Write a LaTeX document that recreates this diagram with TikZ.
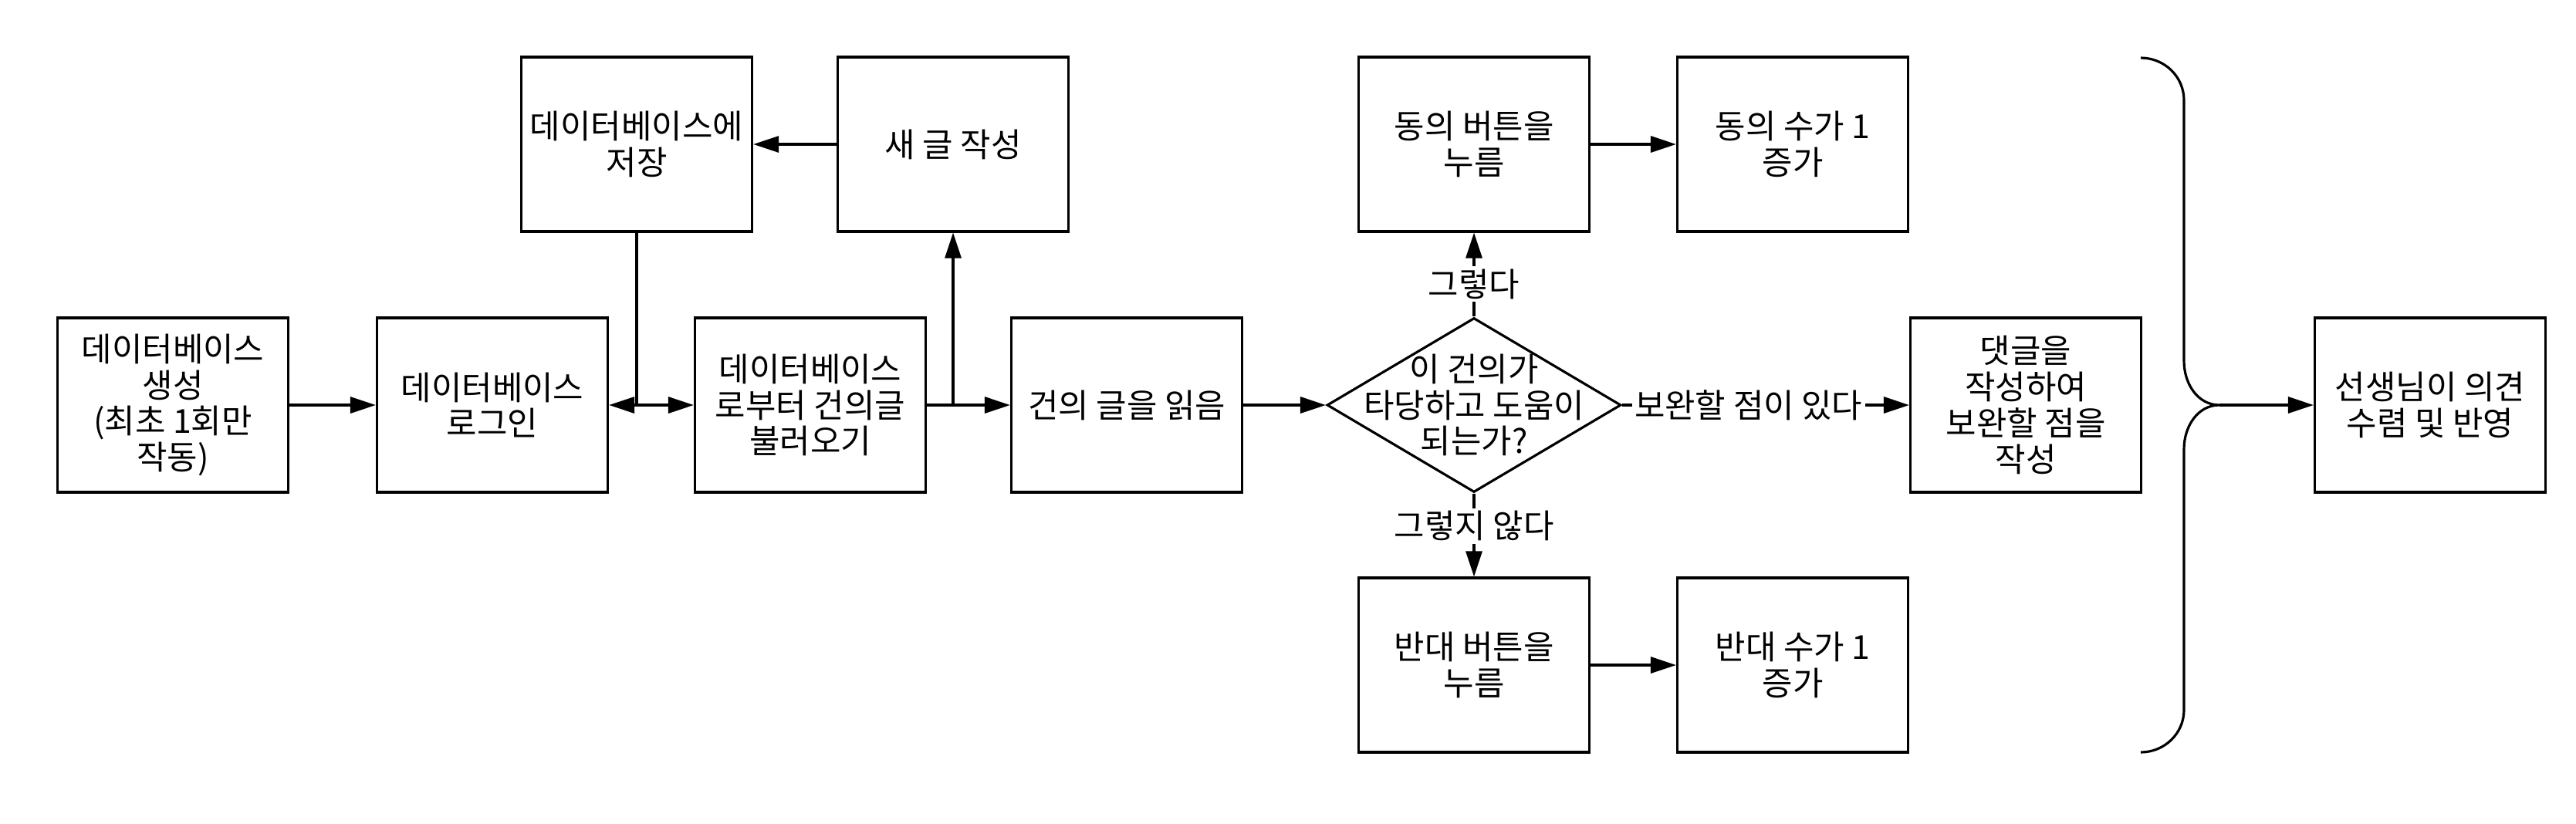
\documentclass[tikz,border=0pt]{standalone}
\usepackage{fontspec}
\setmainfont{Noto Sans CJK KR}
\usetikzlibrary{arrows.meta,positioning,shapes.geometric}
\newcommand\kfont{\fontsize{12.2pt}{13.3pt}\selectfont}

\begin{document}
\begin{tikzpicture}[>={Triangle[length=0.33cm,width=0.21cm]},line width=0.9pt,
    box/.style={draw,minimum width=2.99cm,minimum height=2.26cm,inner sep=0pt,
      align=center,font=\kfont},
    decision/.style={draw,diamond,minimum width=3.81cm,minimum height=2.26cm,inner sep=0pt},
    edgelabel/.style={fill=white,inner sep=1pt,font=\kfont}]
  \useasboundingbox (0,0) rectangle (33.38,10.67);
  % main row
  \node[box] (create) at (2.24,5.42) {데이터베이스\\생성\\(최초 1회만\\작동)};
  \node[box] (login) at (6.38,5.42) {데이터베이스\\로그인};
  \node[box] (fetch) at (10.50,5.42) {데이터베이스\\로부터 건의글\\불러오기};
  \node[box] (read) at (14.60,5.42) {건의 글을 읽음};
  \node[decision,label={[font=\kfont,align=center]center:{이 건의가\\타당하고 도움이\\되는가?}}]
      (check) at (19.10,5.42) {};
  \node[box] (reply) at (26.25,5.42) {댓글을\\작성하여\\보완할 점을\\작성};
  \node[box] (teacher) at (31.49,5.42) {선생님이 의견\\수렴 및 반영};
  % top and bottom rows
  \node[box] (save) at (8.25,8.80) {데이터베이스에\\저장};
  \node[box] (newpost) at (12.35,8.80) {새 글 작성};
  \node[box] (agree) at (19.10,8.80) {동의 버튼을\\누름};
  \node[box] (agreecount) at (23.23,8.80) {동의 수가 1\\증가};
  \node[box] (oppose) at (19.10,2.05) {반대 버튼을\\누름};
  \node[box] (opposecount) at (23.23,2.05) {반대 수가 1\\증가};

  \draw[->] (create) -- (login);
  \draw[<->] (login) -- (fetch);
  \draw (save) -- (save |- login.east);
  \draw[->] (newpost) -- (save);
  \draw[->] (fetch) -- (read);
  \draw[->] (fetch.east -| newpost.south) -- (newpost);
  \draw[->] (read) -- (check);
  \draw[->] (check) -- node[edgelabel,pos=0.39] {그렇다} (agree);
  \draw[->] (check) -- node[edgelabel,pos=0.39] {그렇지 않다} (oppose);
  \draw[->] (check) -- node[edgelabel,pos=0.44] {보완할 점이 있다} (reply);
  \draw[->] (agree) -- (agreecount);
  \draw[->] (oppose) -- (opposecount);
  % brace
  \coordinate (tip) at (28.76,5.42);
  \draw (27.74,9.92) to[out=0,in=90] (28.30,9.37) -- (28.30,5.99)
    to[out=-90,in=180] (tip) to[out=180,in=90] (28.30,4.85) -- (28.30,1.47)
    to[out=-90,in=0] (27.74,0.92);
  \draw[->] (tip) -- (teacher);
\end{tikzpicture}
\end{document}
